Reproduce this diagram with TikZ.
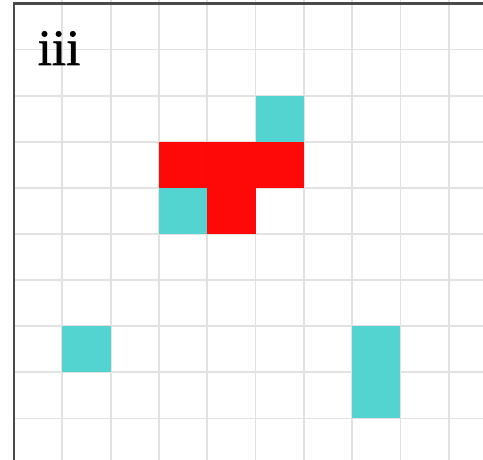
\documentclass[tikz,border=0pt]{standalone}
\usepackage{fontspec}
\setmainfont{Liberation Serif}
\newfontfamily\labelfont{Liberation Serif}[FakeBold=1.2]
\definecolor{cellteal}{HTML}{4ED3CF}
\definecolor{cellred}{HTML}{FF0000}
\definecolor{gridgray}{HTML}{E2E2E2}
\definecolor{framegray}{HTML}{4A4A4A}
\begin{document}
\begin{tikzpicture}[x=1pt, y=-1pt,
  gridL/.style={line width=1.8pt, color=gridgray},
  cellF/.style={fill opacity=0.97},
  frameL/.style={color=framegray},
]
\def\xo{14}
\def\yo{3.5}
\def\cw{48.3}
\def\ch{46.1}
\useasboundingbox (0,0) rectangle (483,460);
\fill[white] (0,0) rectangle (483,460);
% grid
\foreach \k in {1,...,9} {
  \draw[gridL] (\xo+\k*\cw,0) -- (\xo+\k*\cw,460);
  \draw[gridL] (\xo,\yo+\k*\ch) -- (483,\yo+\k*\ch);
}
% filled cells: column/row/colour
\foreach \c/\r/\col in {3/3/cellred, 4/3/cellred, 5/3/cellred, 4/4/cellred,
                       5/2/cellteal, 3/4/cellteal, 1/7/cellteal, 7/7/cellteal, 7/8/cellteal} {
  \fill[cellF, \col] (\xo+\c*\cw,\yo+\r*\ch) rectangle ++(\cw,\ch);
}
\draw[frameL, line width=2.8pt] (\xo-0.9,\yo) -- (483,\yo);
\draw[frameL, line width=1.8pt] (\xo,\yo) -- (\xo,460);
\node[font=\labelfont\fontsize{51}{53}\selectfont, anchor=base, inner sep=0pt] (label) at (59,65) {iii};
\end{tikzpicture}
\end{document}
